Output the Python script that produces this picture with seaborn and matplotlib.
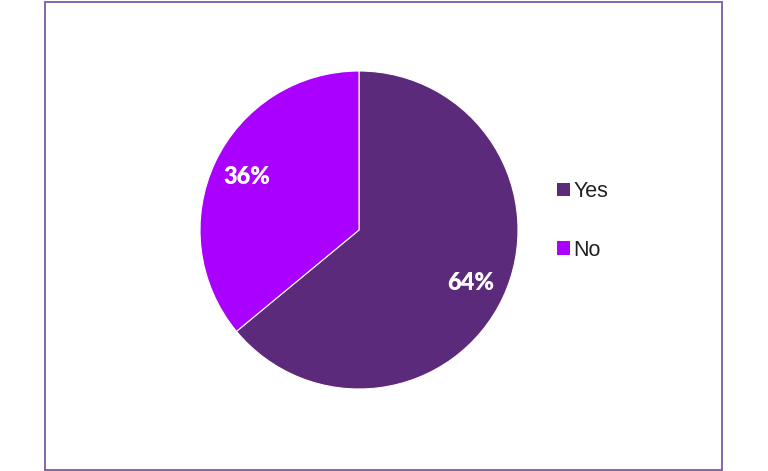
import matplotlib
matplotlib.use("Agg")
import matplotlib.pyplot as plt
from matplotlib.patches import Rectangle, Patch
import seaborn as sns

categories = ["Yes", "No"]
values = [64, 36]
colors = ["#5B2A7B", "#AA00FF"]

sns.set_theme(style="white")
plt.rcParams['font.family'] = ['Lato', 'DejaVu Sans']

fig = plt.figure(figsize=(7.68, 4.71), dpi=100)
fig.patch.set_facecolor("white")

# border
fig.patches.append(Rectangle((44.5/768, 1.0/471), (722-44.5)/768, (469.5-1.0)/471,
                             transform=fig.transFigure, fill=False,
                             edgecolor="#7A5AA3", linewidth=1.3))

r = 159
cx, cy = 359, 471 - 230
ax = fig.add_axes([(cx - r)/768, (cy - r)/471, 2*r/768, 2*r/471])
wedges, texts, autotexts = ax.pie(values, colors=colors, startangle=90, counterclock=False,
                                  autopct=lambda p: f"{p:.0f}%", pctdistance=0.78,
                                  radius=1.0,
                                  wedgeprops=dict(edgecolor="white", linewidth=0.8),
                                  textprops=dict(color="white", fontsize=17, fontweight="heavy"))
ax.set_xlim(-1, 1)
ax.set_ylim(-1, 1)
ax.set_aspect("equal")
ax.axis("off")

handles = [Patch(facecolor=c, edgecolor="none") for c in colors]
leg = fig.legend(handles, categories, loc="center left",
                 bbox_to_anchor=(538/768, (471-221)/471), frameon=False,
                 prop=dict(family=["Liberation Sans", "DejaVu Sans"], size=15.5),
                 labelcolor="#222222",
                 handlelength=0.6, handleheight=0.6, handletextpad=0.15,
                 labelspacing=1.75)

fig.savefig("out.png", dpi=100)
